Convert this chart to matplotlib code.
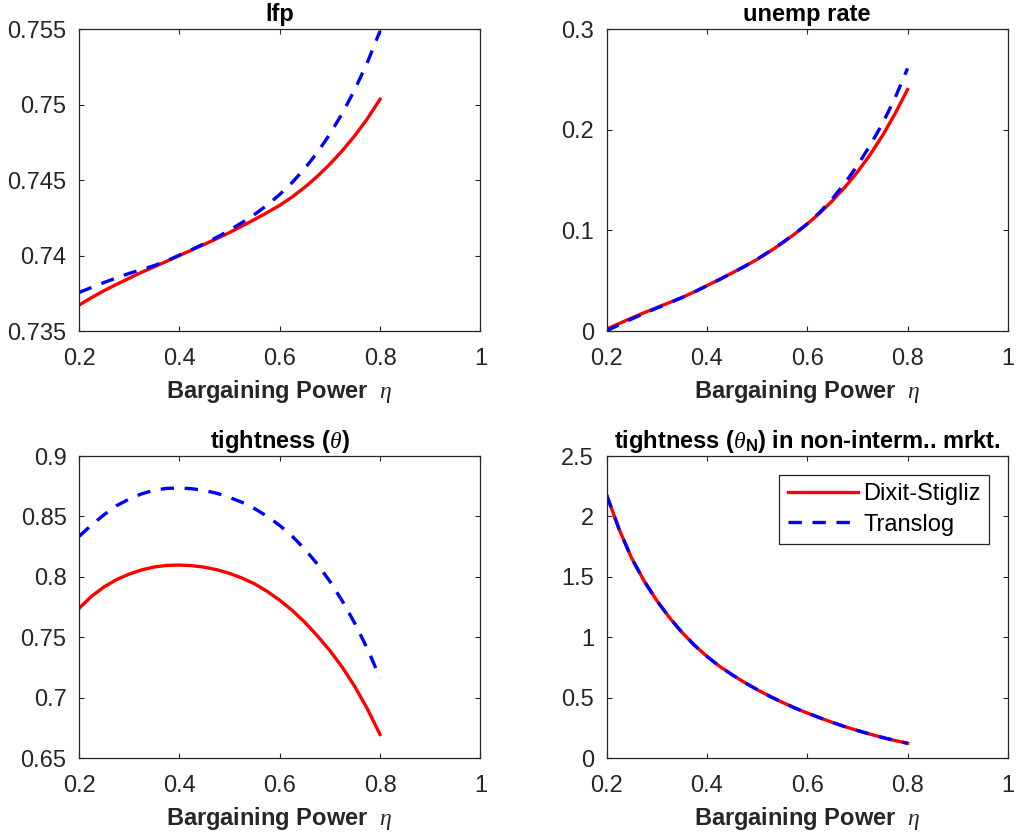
# 2x2 panel: labour market outcomes vs bargaining power, Dixit-Stigliz vs Translog
import numpy as np
import matplotlib
matplotlib.use('Agg')
from matplotlib import pyplot as plt
from matplotlib.ticker import FormatStrFormatter

plt.rcParams['font.family'] = ['Liberation Sans', 'DejaVu Sans']
plt.rcParams['mathtext.fontset'] = 'custom'
plt.rcParams['mathtext.rm'] = 'Liberation Sans'
plt.rcParams['mathtext.it'] = 'Liberation Serif:italic'
plt.rcParams['mathtext.bf'] = 'Liberation Sans:bold'

# ----------- data -----------------------------------------------------------------------
eta = [0.2, 0.225, 0.25, 0.275, 0.3, 0.325, 0.35, 0.375, 0.4, 0.425, 0.45, 0.475, 0.5,
       0.525, 0.55, 0.575, 0.6, 0.625, 0.65, 0.675, 0.7, 0.725, 0.75, 0.775, 0.8]

lfp_ds = [0.73672, 0.73722, 0.73768, 0.73810, 0.73850, 0.73890, 0.73926, 0.73963, 0.74001,
          0.74038, 0.74075, 0.74113, 0.74153, 0.74196, 0.74240, 0.74285, 0.74333, 0.74389,
          0.74453, 0.74525, 0.74606, 0.74696, 0.74796, 0.74908, 0.75036]
lfp_tl = [0.73756, 0.73789, 0.73822, 0.73853, 0.73882, 0.73908, 0.73934, 0.73966, 0.74003,
          0.74040, 0.74080, 0.74122, 0.74168, 0.74219, 0.74273, 0.74334, 0.74405, 0.74485,
          0.74577, 0.74683, 0.74805, 0.74944, 0.75102, 0.75282, 0.75488]

unemp_ds = [0.0020, 0.0075, 0.0130, 0.0183, 0.0233, 0.0283, 0.0333, 0.0390, 0.0452,
            0.0513, 0.0577, 0.0642, 0.0712, 0.0790, 0.0874, 0.0965, 0.1064, 0.1173,
            0.1294, 0.1429, 0.1580, 0.1750, 0.1942, 0.2159, 0.2400]
unemp_tl = [0.0003, 0.0062, 0.0120, 0.0176, 0.0228, 0.0280, 0.0332, 0.0389, 0.0450,
            0.0512, 0.0576, 0.0643, 0.0714, 0.0793, 0.0877, 0.0967, 0.1065, 0.1180,
            0.1315, 0.1470, 0.1645, 0.1842, 0.2062, 0.2315, 0.2610]

tight_ds = [0.7739, 0.7840, 0.7917, 0.7978, 0.8023, 0.8058, 0.8082, 0.8095, 0.8098,
            0.8093, 0.8080, 0.8059, 0.8029, 0.7990, 0.7942, 0.7880, 0.7807, 0.7722,
            0.7624, 0.7512, 0.7390, 0.7250, 0.7090, 0.6905, 0.6695]
tight_tl = [0.8335, 0.8430, 0.8515, 0.8590, 0.8645, 0.8688, 0.8718, 0.8733, 0.8736,
            0.8730, 0.8715, 0.8692, 0.8658, 0.8617, 0.8565, 0.8502, 0.8426, 0.8336,
            0.8230, 0.8106, 0.7963, 0.7799, 0.7613, 0.7403, 0.7163]

tightN_ds = [2.180, 1.895, 1.655, 1.465, 1.305, 1.165, 1.042, 0.935, 0.842,
             0.760, 0.690, 0.626, 0.567, 0.512, 0.462, 0.415, 0.373, 0.333,
             0.295, 0.260, 0.228, 0.198, 0.170, 0.145, 0.122]
tightN_tl = [2.180, 1.895, 1.655, 1.465, 1.305, 1.165, 1.042, 0.935, 0.842,
             0.760, 0.690, 0.626, 0.567, 0.512, 0.462, 0.415, 0.373, 0.333,
             0.295, 0.260, 0.228, 0.198, 0.170, 0.145, 0.122]

titles = ['lfp', 'unemp rate', r'tightness ($\theta$)',
          r'tightness ($\theta_\mathbf{N}$) in non-interm.. mrkt.']
ylims = [(0.735, 0.755), (0, 0.3), (0.65, 0.9), (0, 2.5)]
yticks = [[0.735, 0.74, 0.745, 0.75, 0.755], [0, 0.1, 0.2, 0.3],
          [0.65, 0.7, 0.75, 0.8, 0.85, 0.9], [0, 0.5, 1, 1.5, 2, 2.5]]
series = [(lfp_ds, lfp_tl), (unemp_ds, unemp_tl),
          (tight_ds, tight_tl), (tightN_ds, tightN_tl)]

# axes positions (fig fractions) as in the original
pos = [[0.0778, 0.603, 0.395, 0.362], [0.597, 0.603, 0.395, 0.362],
       [0.0778, 0.0911, 0.395, 0.362], [0.597, 0.0911, 0.395, 0.362]]

fig = plt.figure(figsize=(10.16, 8.34), dpi=100)
dark = '#262626'
fs = 17

for i in range(4):
    ax = fig.add_axes(pos[i])
    ds, tl = series[i]
    ax.plot(eta, ds, '-', color='r', linewidth=2.4, label='Dixit-Stigliz')
    ax.plot(eta, tl, '--', color='b', linewidth=2.4, dashes=(4.0, 3.2), label='Translog')
    ax.set_xlim(0.2, 1)
    ax.set_ylim(*ylims[i])
    ax.set_xticks([0.2, 0.4, 0.6, 0.8, 1])
    ax.set_yticks(yticks[i])
    ax.xaxis.set_major_formatter(FormatStrFormatter('%g'))
    ax.yaxis.set_major_formatter(FormatStrFormatter('%g'))
    ax.tick_params(direction='in', top=True, right=True, length=3.8, width=0.8,
                   colors=dark, labelsize=fs, labelcolor=dark)
    ax.tick_params(axis='x', pad=12)
    ax.tick_params(axis='y', pad=9)
    for s in ax.spines.values():
        s.set_color(dark)
        s.set_linewidth(0.9)
    ax.set_title(titles[i], fontsize=fs, fontweight='bold', pad=6)
    ax.set_xlabel(r'Bargaining Power  $\eta$', fontsize=fs, fontweight='bold',
                  color=dark, labelpad=6)
    if i == 3:
        leg = ax.legend(loc='upper right', fontsize=fs, handlelength=3.0,
                        fancybox=False, framealpha=1, edgecolor=dark,
                        borderaxespad=0.8, handletextpad=0.2, labelspacing=0.35,
                        borderpad=0.35)
        leg.get_frame().set_linewidth(0.9)

plt.savefig('out.png', format='png')
plt.close()
